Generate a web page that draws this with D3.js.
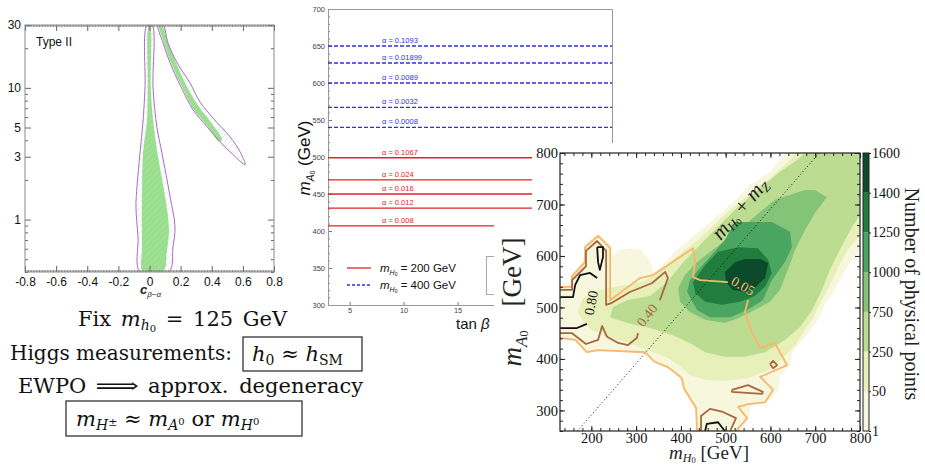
<!DOCTYPE html>
<html>
<head>
<meta charset="utf-8">
<title>2HDM summary slide</title>
<script src="https://cdn.jsdelivr.net/npm/d3@7"></script>
<style>
  body { margin: 0; background: #fff; }
  svg { display: block; }
</style>
</head>
<body>
<svg id="chart" width="925" height="465"></svg>
<script>
/// left panel: Type II, c(beta-alpha) vs tan(beta)
const leftXTicks = [-0.8, -0.6, -0.4, -0.2, 0, 0.2, 0.4, 0.6, 0.8];
const leftYTicks = [1, 3, 5, 10, 30];
const leftYMinor = [0.4, 0.5, 0.6, 0.7, 0.8, 0.9, 2, 4, 6, 7, 8, 9, 20];
const centralOuter = [[-0.016, 30], [-0.029, 10], [-0.042, 5.5], [-0.061, 3.2], [-0.080, 1.8], [-0.087, 1.25],
  [-0.074, 0.74], [-0.061, 0.40], [0.125, 0.40], [0.151, 0.62], [0.164, 0.88], [0.132, 1.5], [0.080, 3.2],
  [0.048, 5.0], [0.023, 10], [0.016, 30]];
const centralGreen = [[-0.005, 30], [-0.012, 10], [-0.016, 5.7], [-0.042, 3.2], [-0.048, 1.5], [-0.048, 0.62],
  [-0.042, 0.40], [0.087, 0.40], [0.112, 0.58], [0.125, 0.85], [0.100, 1.5], [0.055, 3.0], [0.023, 5.7],
  [0.008, 10], [0.004, 30]];
const lobeOuter = [[0.087, 30], [0.119, 21.9], [0.177, 15.5], [0.260, 10.9], [0.325, 7.8], [0.408, 5.9],
  [0.517, 4.25], [0.582, 3.27], [0.614, 2.61], [0.537, 3.11], [0.453, 3.90], [0.370, 5.06], [0.280, 6.81],
  [0.202, 10.2], [0.132, 15.5], [0.087, 21.9], [0.055, 30]];
const lobeGreen = [[0.061, 30], [0.093, 21.9], [0.138, 15.5], [0.209, 10.2], [0.286, 6.81], [0.376, 5.06],
  [0.447, 3.90], [0.466, 4.04], [0.402, 5.34], [0.318, 7.18], [0.241, 10.2], [0.170, 15.5], [0.119, 21.9],
  [0.080, 30]];

/// middle panel: mA0 vs tan(beta)
const midYTicks = [300, 350, 400, 450, 500, 550, 600, 650, 700];
const midXTicks = [5, 10, 15];
const mA400 = [650, 627, 600, 567, 540];
const alpha400 = ['0.1093', '0.01899', '0.0089', '0.0032', '0.0008'];
const mA200 = [499, 469, 450, 431, 407];
const alpha200 = ['0.1067', '0.024', '0.016', '0.012', '0.008'];
const legendMasses = ['200', '400'];

/// right panel: number of physical points in (mH0, mA0)
const rightXTicks = [200, 300, 400, 500, 600, 700, 800];
const rightYTicks = [300, 400, 500, 600, 700, 800];
const cbLabels = ['1', '50', '250', '750', '1000', '1250', '1400', '1600'];
const cbColors = ['#f6f7dc', '#e7f0b8', '#bcdc92', '#84c479', '#4aa560', '#217d3e', '#0b4a2a'];
const mZ = 91.2;

const region1 = [[130, 544], [155, 544], [155, 565], [184, 592], [184, 621], [215, 645], [246, 619], [246, 602],
  [264, 612], [286, 615], [309, 612], [327, 596], [340, 569], [365, 588], [391, 612], [449, 654], [510, 699],
  [554, 738], [599, 763], [632, 800], [800, 800], [800, 612], [778, 588], [755, 553], [740, 530], [722, 505],
  [706, 476], [677, 441], [648, 413], [644, 388], [621, 367], [617, 340], [599, 320], [559, 311], [550, 285],
  [532, 260], [436, 260], [432, 301], [420, 320], [405, 340], [398, 363], [371, 382], [342, 394], [320, 412],
  [215, 415], [190, 412], [164, 435], [130, 439]];
const region2 = [[170, 491], [181, 518], [219, 534], [253, 540], [282, 544], [309, 549], [335, 559], [358, 577],
  [387, 596], [443, 635], [498, 680], [550, 718], [595, 748], [644, 786], [655, 800], [800, 800], [800, 641],
  [773, 612], [751, 577], [733, 544], [715, 514], [695, 479], [677, 456], [655, 427], [628, 402], [595, 378],
  [550, 363], [498, 357], [454, 359], [420, 369], [398, 386], [371, 402], [327, 417], [282, 431], [242, 441],
  [201, 456], [179, 476]];
const region3 = [[242, 481], [248, 501], [280, 514], [331, 522], [369, 549], [405, 588], [465, 641], [525, 693],
  [577, 732], [621, 763], [659, 786], [677, 800], [800, 800], [800, 680], [778, 650], [755, 612], [733, 573],
  [715, 534], [693, 495], [666, 462], [632, 437], [588, 413], [543, 404], [498, 404], [454, 413], [420, 431],
  [382, 446], [331, 460], [280, 470]];
const region4 = [[394, 538], [409, 563], [436, 588], [465, 608], [510, 637], [550, 666], [610, 709], [677, 728],
  [699, 728], [726, 714], [699, 683], [677, 650], [655, 612], [639, 573], [621, 534], [599, 511], [565, 495],
  [528, 479], [498, 470], [454, 476], [420, 491], [398, 511]];
const region5 = [[414, 530], [420, 553], [443, 577], [469, 602], [498, 631], [521, 666], [603, 666], [644, 647],
  [648, 617], [632, 588], [603, 553], [583, 514], [548, 495], [510, 481], [465, 481], [436, 495]];
const region6 = [[427, 549], [454, 582], [483, 608], [528, 617], [572, 615], [595, 592], [603, 567], [588, 540],
  [565, 522], [532, 511], [492, 505], [454, 511], [432, 528]];
const region7 = [[498, 569], [521, 588], [543, 594], [577, 594], [595, 586], [588, 557], [565, 538], [543, 530],
  [516, 534], [501, 549]];

const c005a = [[130, 540], [157, 540], [157, 561], [186, 588], [186, 617], [215, 639], [242, 615], [242, 514],
  [282, 540], [309, 557], [338, 563], [371, 582], [427, 615], [432, 588], [427, 559], [443, 553], [505, 549]];
const c005b = [[550, 514], [543, 491], [559, 450], [577, 421], [610, 431], [637, 388], [577, 365], [606, 340],
  [588, 316], [550, 312], [528, 307], [548, 285], [523, 260]];
const c005c = [[436, 260], [434, 305], [420, 324], [407, 343], [402, 363], [371, 384], [342, 394], [320, 413],
  [215, 417], [190, 413], [164, 437], [130, 441]];
const c040a = [[130, 534], [157, 534], [157, 553], [188, 580], [188, 610], [213, 629], [233, 610], [233, 505],
  [246, 509], [286, 530], [335, 547], [365, 569], [371, 557], [353, 514]];
const c040b = [[304, 450], [302, 441], [282, 427], [260, 431], [235, 443], [224, 464], [215, 437], [188, 429],
  [157, 450], [130, 450]];
const c040c = [[445, 260], [445, 289], [465, 303], [494, 297], [523, 285], [510, 260]];
const c040d = [[599, 390], [606, 396], [615, 388], [606, 382], [599, 390]];
const c040e = [[514, 340], [550, 349], [583, 336], [581, 332], [514, 336], [514, 340]];
const c080a = [[130, 520], [159, 520], [164, 544], [175, 563], [197, 567], [213, 557]];
const c080b = [[130, 460], [168, 460], [190, 468]];
const c080c = [[213, 617], [226, 617], [226, 598], [219, 573], [215, 588], [213, 617]];
const c080d = [[454, 260], [458, 274], [483, 277], [498, 260]];
const contourLabels = [
  { t: '0.80', at: [199, 509], rot: -80, color: '#111' },
  { t: '0.40', at: [324, 485], rot: -52, color: '#a8673f' },
  { t: '0.05', at: [539, 542], rot: 30, color: '#f7b46a' },
];

const sans = 'Liberation Sans, Arial, sans-serif';
const serif = 'Liberation Serif, Times New Roman, serif';
const svg = d3.select('#chart');
const defs = svg.append('defs');

/// style helper for axes: no domain, thin ticks
const styleAxis = (color, size, family) => (g) => {
  g.select('.domain').remove();
  g.selectAll('line').attr('stroke', color);
  g.attr('font-size', size).attr('font-family', family);
  g.selectAll('text').attr('fill', '#111');
};

// ---------------- left panel ----------------
const lx = d3.scaleLinear().domain([-0.8, 0.8]).range([25, 274]);
const ly = d3.scaleLog().domain([0.4, 30]).range([272, 25]);

defs.append('clipPath').attr('id', 'leftClip')
  .append('rect').attr('x', 25).attr('y', 25).attr('width', 249).attr('height', 247);
const hatch = defs.append('pattern').attr('id', 'hatch').attr('patternUnits', 'userSpaceOnUse')
  .attr('width', 6).attr('height', 6);
hatch.append('path').attr('d', 'M0,6 L6,0 M-1,1 L1,-1 M5,7 L7,5')
  .attr('stroke', '#d6cfe0').attr('stroke-width', 0.5);

const leftShape = d3.line().x(d => lx(d[0])).y(d => ly(d[1])).curve(d3.curveCatmullRomClosed.alpha(0.5));
const gLeft = svg.append('g').attr('clip-path', 'url(#leftClip)');
[centralGreen, lobeGreen].forEach(s => gLeft.append('path').attr('d', leftShape(s)).attr('fill', '#96e08a'));
[centralOuter, lobeOuter].forEach(s => gLeft.append('path').attr('d', leftShape(s))
  .attr('fill', 'url(#hatch)').attr('stroke', '#a56fc1').attr('stroke-width', 1));

const fineX = d3.range(-80, 81, 1).map(d => d / 100);
svg.append('g').attr('transform', 'translate(0,272)')
  .call(d3.axisBottom(lx).tickValues(fineX).tickSize(-2).tickFormat(''))
  .call(styleAxis('#888', 10, sans));
svg.append('g').attr('transform', 'translate(0,25)')
  .call(d3.axisTop(lx).tickValues(fineX).tickSize(-2).tickFormat(''))
  .call(styleAxis('#888', 10, sans));
svg.append('g').attr('transform', 'translate(0,272)')
  .call(d3.axisBottom(lx).tickValues(leftXTicks).tickSize(-6).tickPadding(5)
    .tickFormat(d => (d === 0 ? '0' : d.toFixed(1))))
  .call(styleAxis('#666', 12, sans));
svg.append('g').attr('transform', 'translate(0,25)')
  .call(d3.axisTop(lx).tickValues(leftXTicks).tickSize(-6).tickFormat(''))
  .call(styleAxis('#666', 12, sans));
svg.append('g').attr('transform', 'translate(25,0)')
  .call(d3.axisLeft(ly).tickValues(leftYTicks).tickSize(-6).tickPadding(4).tickFormat(d3.format('d')))
  .call(styleAxis('#666', 12, sans));
svg.append('g').attr('transform', 'translate(25,0)')
  .call(d3.axisLeft(ly).tickValues(leftYMinor).tickSize(-3).tickFormat(''))
  .call(styleAxis('#666', 12, sans));
svg.append('g').attr('transform', 'translate(274,0)')
  .call(d3.axisRight(ly).tickValues(leftYTicks).tickSize(-6).tickFormat(''))
  .call(styleAxis('#666', 12, sans));
svg.append('g').attr('transform', 'translate(274,0)')
  .call(d3.axisRight(ly).tickValues(leftYMinor).tickSize(-3).tickFormat(''))
  .call(styleAxis('#666', 12, sans));
svg.append('rect').attr('x', 25).attr('y', 25).attr('width', 249).attr('height', 247)
  .attr('fill', 'none').attr('stroke', '#8a8a8a').attr('stroke-width', 1);

svg.append('text').attr('x', 36).attr('y', 46).attr('font-family', sans).attr('font-size', 12)
  .attr('fill', '#111').text('Type II');
const cLabel = svg.append('text').attr('x', 140).attr('y', 294).attr('font-family', sans)
  .attr('font-size', 13).attr('font-weight', 'bold').attr('fill', '#222');
cLabel.append('tspan').attr('font-style', 'italic').text('c');
cLabel.append('tspan').attr('font-size', 8).attr('font-style', 'italic').attr('font-weight', 'normal')
  .attr('dy', 3).text('β−α');

// ---------------- middle panel ----------------
const mx = d3.scaleLinear().domain([3, 29.3]).range([328, 612]);
const my = d3.scaleLinear().domain([300, 700]).range([305, 9]);
const gMid = svg.append('g');

gMid.append('g').attr('transform', 'translate(328,0)')
  .call(d3.axisLeft(my).tickValues(d3.range(300, 701, 10)).tickSize(-2).tickFormat(''))
  .call(styleAxis('#777', 8, sans));
gMid.append('g').attr('transform', 'translate(328,0)')
  .call(d3.axisLeft(my).tickValues(midYTicks).tickSize(-4).tickPadding(3))
  .call(styleAxis('#777', 7.5, sans))
  .call(g => g.selectAll('text').attr('fill', '#444'));
gMid.append('g').attr('transform', 'translate(0,305)')
  .call(d3.axisBottom(mx).tickValues(midXTicks).tickSize(-3).tickPadding(3))
  .call(styleAxis('#777', 7.5, sans))
  .call(g => g.selectAll('text').attr('fill', '#444'));
gMid.append('path').attr('d', 'M612.5,145 V9.5 H328.5 V305.5 H612')
  .attr('fill', 'none').attr('stroke', '#999').attr('stroke-width', 1);

gMid.selectAll('line.l400').data(mA400).enter().append('line').attr('class', 'l400')
  .attr('x1', mx(3)).attr('x2', mx(29.3)).attr('y1', d => my(d)).attr('y2', d => my(d))
  .attr('stroke', '#2f2fe0').attr('stroke-width', 1.3).attr('stroke-dasharray', '4,2');
gMid.selectAll('line.l200').data(mA200).enter().append('line').attr('class', 'l200')
  .attr('x1', mx(3)).attr('x2', mx(29.3)).attr('y1', d => my(d)).attr('y2', d => my(d))
  .attr('stroke', '#e32222').attr('stroke-width', 1.3);
gMid.selectAll('text.a400').data(mA400).enter().append('text').attr('class', 'a400')
  .attr('x', mx(8)).attr('y', d => my(d) - 3).attr('font-family', sans).attr('font-size', 7.5)
  .attr('fill', '#2f2fe0').text((d, i) => `α = ${alpha400[i]}`);
gMid.selectAll('text.a200').data(mA200).enter().append('text').attr('class', 'a200')
  .attr('x', mx(8)).attr('y', d => my(d) - 3).attr('font-family', sans).attr('font-size', 7.5)
  .attr('fill', '#e32222').text((d, i) => `α = ${alpha200[i]}`);

// legend
gMid.append('rect').attr('x', 486.5).attr('y', 256.5).attr('width', 120).attr('height', 38)
  .attr('fill', 'none').attr('stroke', '#aaa');
legendMasses.forEach((m, i) => {
  const y = 268 + i * 17;
  gMid.append('line').attr('x1', 347).attr('x2', 371).attr('y1', y).attr('y2', y)
    .attr('stroke', i ? '#2f2fe0' : '#e32222').attr('stroke-width', 1.3)
    .attr('stroke-dasharray', i ? '3,2' : null);
  const t = gMid.append('text').attr('x', 380).attr('y', y + 4).attr('font-family', sans)
    .attr('font-size', 11.5).attr('fill', '#111');
  t.append('tspan').attr('font-style', 'italic').text('m');
  t.append('tspan').attr('font-size', 7).attr('font-style', 'italic').attr('dy', 3).text('H');
  t.append('tspan').attr('font-size', 5).attr('dy', 1).text('0');
  t.append('tspan').attr('dy', -4).text(` = ${m} GeV`);
});

const mLabel = gMid.append('text').attr('transform', 'translate(310,158) rotate(-90)')
  .attr('text-anchor', 'middle').attr('font-family', sans).attr('font-size', 17).attr('fill', '#111');
mLabel.append('tspan').attr('font-style', 'italic').text('m');
mLabel.append('tspan').attr('font-size', 10).attr('font-style', 'italic').attr('dy', 4).text('A');
mLabel.append('tspan').attr('font-size', 7).attr('dy', 1).text('0');
mLabel.append('tspan').attr('dy', -5).text(' (GeV)');
const tLabel = gMid.append('text').attr('x', 456).attr('y', 329).attr('font-family', sans)
  .attr('font-size', 15).attr('fill', '#111');
tLabel.append('tspan').text('tan ');
tLabel.append('tspan').attr('font-style', 'italic').text('β');

// white backdrop of the overlapping right picture
svg.append('path').attr('d', 'M532,143 H925 V465 H494 V215 H532 Z').attr('fill', '#fff');

// ---------------- right panel ----------------
const rx = d3.scaleLinear().domain([130, 800]).range([560, 860]);
const ry = d3.scaleLinear().domain([260, 800]).range([431, 153]);
defs.append('clipPath').attr('id', 'rightClip')
  .append('rect').attr('x', 560).attr('y', 153).attr('width', 300).attr('height', 278);
const rLine = d3.line().x(d => rx(d[0])).y(d => ry(d[1]));
const gRight = svg.append('g').attr('clip-path', 'url(#rightClip)');

[region1, region2, region3, region4, region5, region6, region7].forEach((r, i) => {
  gRight.append('path').attr('d', `${rLine(r)}Z`).attr('fill', cbColors[i]);
});

// dotted line mA = mH + mZ
const diag = [[260 - mZ, 260], [800 - mZ, 800]];
gRight.append('path').attr('d', rLine(diag)).attr('stroke', '#111').attr('stroke-width', 1)
  .attr('stroke-dasharray', '1,2.4').attr('fill', 'none');

const contourStyle = [
  { lines: [c005a, c005b, c005c], color: '#f9b66c' },
  { lines: [c040a, c040b, c040c, c040d, c040e], color: '#a8673f' },
  { lines: [c080a, c080b, c080c, c080d], color: '#111' },
];
contourStyle.forEach(s => {
  s.lines.forEach(l => gRight.append('path').attr('d', rLine(l)).attr('fill', 'none')
    .attr('stroke', s.color).attr('stroke-width', 1.8).attr('stroke-linejoin', 'round'));
});
contourLabels.forEach(c => {
  gRight.append('text')
    .attr('transform', `translate(${rx(c.at[0])},${ry(c.at[1])}) rotate(${c.rot})`)
    .attr('text-anchor', 'middle').attr('dy', '0.35em').attr('font-family', serif)
    .attr('font-size', 14).attr('fill', c.color).text(c.t);
});

// label along the diagonal
const ang = Math.atan2(ry(diag[1][1]) - ry(diag[0][1]), rx(diag[1][0]) - rx(diag[0][0])) * 180 / Math.PI;
const dLabel = gRight.append('text')
  .attr('transform', `translate(${rx(543)},${ry(683)}) rotate(${ang})`)
  .attr('text-anchor', 'middle').attr('font-family', serif).attr('font-size', 21).attr('fill', '#222');
dLabel.append('tspan').attr('font-style', 'italic').text('m');
dLabel.append('tspan').attr('font-style', 'italic').attr('font-size', 13).attr('dy', 3).text('H');
dLabel.append('tspan').attr('font-size', 9).attr('dy', 1).text('0');
dLabel.append('tspan').attr('dy', -4).text(' + ');
dLabel.append('tspan').attr('font-style', 'italic').text('m');
dLabel.append('tspan').attr('font-style', 'italic').attr('font-size', 13).attr('dy', 3).text('Z');

// axes
const axesR = [
  { axis: d3.axisBottom(rx), at: 'translate(0,431)', vals: rightXTicks, minor: d3.range(140, 800, 20), lab: true },
  { axis: d3.axisTop(rx), at: 'translate(0,153)', vals: rightXTicks, minor: d3.range(140, 800, 20), lab: false },
  { axis: d3.axisLeft(ry), at: 'translate(560,0)', vals: rightYTicks, minor: d3.range(260, 800, 20), lab: true },
  { axis: d3.axisRight(ry), at: 'translate(860,0)', vals: rightYTicks, minor: d3.range(260, 800, 20), lab: false },
];
axesR.forEach(a => {
  svg.append('g').attr('transform', a.at)
    .call(a.axis.tickValues(a.minor).tickSize(-3).tickFormat(''))
    .call(styleAxis('#222', 14.5, serif));
  svg.append('g').attr('transform', a.at)
    .call(a.axis.tickValues(a.vals).tickSize(-5).tickPadding(2).tickFormat(a.lab ? d3.format('d') : ''))
    .call(styleAxis('#222', 14.5, serif));
});
svg.append('rect').attr('x', 560).attr('y', 153).attr('width', 300).attr('height', 278)
  .attr('fill', 'none').attr('stroke', '#222').attr('stroke-width', 1.2);

// colour bar
const cb = d3.scaleLinear().domain([0, cbColors.length]).range([431, 153]);
svg.selectAll('rect.cb').data(cbColors).enter().append('rect').attr('class', 'cb')
  .attr('x', 863).attr('width', 6).attr('y', (d, i) => cb(i + 1)).attr('height', (d, i) => cb(i) - cb(i + 1))
  .attr('fill', d => d);
svg.append('rect').attr('x', 863).attr('y', 153).attr('width', 6).attr('height', 278)
  .attr('fill', 'none').attr('stroke', '#222').attr('stroke-width', 1);
svg.append('g').attr('transform', 'translate(869,0)')
  .call(d3.axisRight(cb).tickValues(d3.range(0, cbLabels.length)).tickSize(2).tickPadding(1)
    .tickFormat(i => cbLabels[i]))
  .call(styleAxis('#222', 14, serif));

svg.append('text').attr('transform', 'translate(905,294) rotate(90)').attr('text-anchor', 'middle')
  .attr('font-family', serif).attr('font-size', 20).attr('fill', '#222').text('Number of physical points');

const yR = svg.append('text').attr('transform', 'translate(521,302) rotate(-90)').attr('text-anchor', 'middle')
  .attr('font-family', serif).attr('font-size', 27).attr('fill', '#222');
yR.append('tspan').attr('font-style', 'italic').text('m');
yR.append('tspan').attr('font-style', 'italic').attr('font-size', 17).attr('dy', 6).text('A');
yR.append('tspan').attr('font-size', 12).attr('dy', 1).text('0');
yR.append('tspan').attr('dy', -7).attr('dx', 24).text('[GeV]');
const xR = svg.append('text').attr('x', 709).attr('y', 459).attr('text-anchor', 'middle')
  .attr('font-family', serif).attr('font-size', 19).attr('fill', '#222');
xR.append('tspan').attr('font-style', 'italic').text('m');
xR.append('tspan').attr('font-style', 'italic').attr('font-size', 12).attr('dy', 2.5).text('H');
xR.append('tspan').attr('font-size', 8.5).attr('dy', 1).text('0');
xR.append('tspan').attr('dy', -3.5).text(' [GeV]');

// ---------------- statements ----------------
const tex = 'DejaVu Serif, serif';
const addMath = (x, y, parts, size) => {
  const t = svg.append('text').attr('x', x).attr('y', y).attr('font-size', size || 21)
    .attr('font-family', tex).attr('fill', '#111');
  parts.forEach(p => t.append('tspan').attr('font-style', p.i ? 'italic' : null)
    .attr('font-size', p.s || null).attr('dy', p.dy || null).text(p.t));
  return t;
};
addMath(78, 326, [{ t: 'Fix ' }, { t: 'm', i: 1 }, { t: 'h', i: 1, s: 14, dy: 4 },
  { t: '0', s: 10, dy: 2 }, { t: ' = 125 GeV', dy: -6 }]).attr('word-spacing', 3);
addMath(10, 360, [{ t: 'Higgs measurements:' }], 20);
svg.append('rect').attr('x', 243).attr('y', 337).attr('width', 119).attr('height', 34)
  .attr('fill', 'none').attr('stroke', '#333').attr('stroke-width', 1.3);
addMath(252, 361, [{ t: 'h', i: 1 }, { t: '0', s: 14, dy: 4 }, { t: ' ≈ ', dy: -4 }, { t: 'h', i: 1 },
  { t: 'SM', s: 14, dy: 4 }]);

// EWPO line: widths measured so the long arrow sits between the words
const ewpo = addMath(18, 393, [{ t: 'EWPO' }]);
const arrowX = 18 + ewpo.node().getComputedTextLength() + 9;
const arrow = svg.append('text').attr('transform', `translate(${arrowX},393) scale(1.45,1)`)
  .attr('font-size', 21).attr('font-family', tex).attr('fill', '#111').text('⟹');
addMath(arrowX + arrow.node().getComputedTextLength() * 1.45 + 9, 393, [{ t: 'approx. degeneracy' }])
  .attr('word-spacing', 4);

svg.append('rect').attr('x', 66).attr('y', 401).attr('width', 236).attr('height', 35)
  .attr('fill', 'none').attr('stroke', '#333').attr('stroke-width', 1.3);
addMath(76, 426, [{ t: 'm', i: 1 }, { t: 'H', i: 1, s: 14, dy: 4 }, { t: '±', s: 11, dy: -4 }, { t: ' ≈ ' },
  { t: 'm', i: 1 }, { t: 'A', i: 1, s: 14, dy: 4 }, { t: '0', s: 10, dy: -5 }, { t: ' or ', dy: 1 },
  { t: 'm', i: 1 }, { t: 'H', i: 1, s: 14, dy: 4 }, { t: '0', s: 10, dy: -5 }]);
</script>
</body>
</html>
